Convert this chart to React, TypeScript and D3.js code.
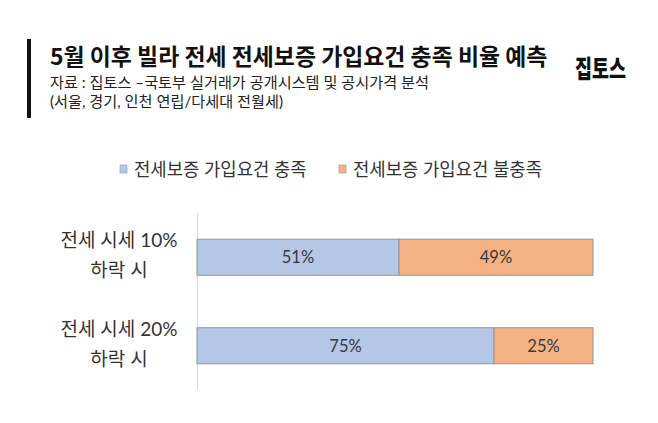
import React from "react";
import * as d3 from "d3";

const categories = ["전세 시세 10%|하락 시", "전세 시세 20%|하락 시"];
const seriesNames = ["전세보증 가입요건 충족", "전세보증 가입요건 불충족"];
const metValues = [51, 75];
const unmetValues = [49, 25];
const seriesColors = ["#B4C7E7", "#F4B183"];

const W = 658;
const H = 423;

export default function App() {
  const x = d3.scaleLinear().domain([0, 100]).range([197, 593]);
  const y = d3
    .scaleBand<string>()
    .domain(categories)
    .range([213, 390])
    .paddingInner(0.593)
    .paddingOuter(0.2965);

  const rows = categories.map((c, i) => ({
    cat: c,
    segs: [
      { v0: 0, v1: metValues[i], color: seriesColors[0] },
      { v0: metValues[i], v1: metValues[i] + unmetValues[i], color: seriesColors[1] },
    ],
  }));

  const krFont = "'Noto Sans CJK KR', 'Noto Sans', sans-serif";
  const mixFont = "Lato, 'Noto Sans CJK KR', sans-serif";

  return (
    <svg
      width={W}
      height={H}
      style={{ position: "absolute", left: 0, top: 0, background: "#fff" }}
    >
      <rect x={0} y={0} width={W} height={H} fill="#fff" />
      {/* title block */}
      <rect x={27} y={39} width={4} height={79} fill="#111" />
      <text x={50} y={65} fontFamily={krFont} fontWeight={700} fontSize={22.9} fill="#111">
        5월 이후 빌라 전세 전세보증 가입요건 충족 비율 예측
      </text>
      <text x={50} y={88} fontFamily={mixFont} fontSize={15.2} fill="#222">
        자료 : 집토스 –국토부 실거래가 공개시스템 및 공시가격 분석
      </text>
      <text x={50} y={106.5} fontFamily={mixFont} fontSize={15.2} fill="#222">
        (서울, 경기, 인천 연립/다세대 전월세)
      </text>
      <text
        x={575}
        y={78}
        fontFamily={krFont}
        fontWeight={900}
        fontSize={25}
        fill="#111"
        textLength={51}
        lengthAdjust="spacingAndGlyphs"
      >
        집토스
      </text>

      {/* legend */}
      {seriesNames.map((s, i) => {
        const lx = i === 0 ? 120 : 339;
        return (
          <g key={s}>
            <rect x={lx} y={165} width={7} height={8} fill={seriesColors[i]} stroke="#8a9ab0" strokeWidth={0.6} />
            <text x={lx + 14} y={175.5} fontFamily={mixFont} fontSize={17.8} fill="#333">
              {s}
            </text>
          </g>
        );
      })}

      {/* axis line */}
      <line x1={197.5} x2={197.5} y1={213} y2={390} stroke="#d9d9d9" strokeWidth={1} />

      {/* bars */}
      {rows.map((r) => {
        const by = y(r.cat)!;
        const bh = y.bandwidth();
        const [l1, l2] = r.cat.split("|");
        return (
          <g key={r.cat}>
            {r.segs.map((s, j) => (
              <g key={j}>
                <rect
                  x={x(s.v0)}
                  y={by}
                  width={x(s.v1) - x(s.v0)}
                  height={bh}
                  fill={s.color}
                  stroke="#8f959c"
                  strokeWidth={1}
                />
                <text
                  x={(x(s.v0) + x(s.v1)) / 2}
                  y={by + bh / 2}
                  dy="0.35em"
                  textAnchor="middle"
                  fontFamily={mixFont}
                  fontSize={16.5}
                  fill="#3a3a3a"
                >
                  {s.v1 - s.v0}%
                </text>
              </g>
            ))}
            <text x={119} y={by + 8} textAnchor="middle" fontFamily={mixFont} fontSize={19} fill="#333">
              {l1}
            </text>
            <text x={119} y={by + 38} textAnchor="middle" fontFamily={mixFont} fontSize={19} fill="#333">
              {l2}
            </text>
          </g>
        );
      })}
    </svg>
  );
}
